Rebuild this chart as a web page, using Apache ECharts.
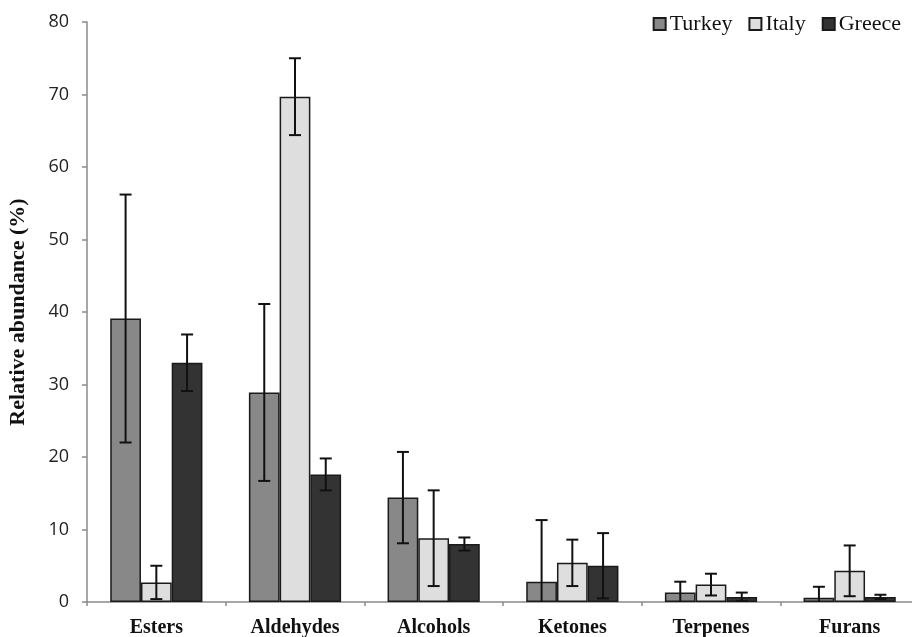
<!DOCTYPE html>
<html>
<head>
<meta charset="utf-8">
<script src="https://cdn.jsdelivr.net/npm/echarts@6/dist/echarts.min.js"></script>
<style>
  html, body { margin: 0; padding: 0; background: #fff; }
  #chart { width: 912px; height: 637px; }
</style>
</head>
<body>
<div id="chart"></div>
<script>
// Volatile compound classes and their relative abundance (%) by origin
const categories = ['Esters', 'Aldehydes', 'Alcohols', 'Ketones', 'Terpenes', 'Furans'];
const countries = ['Turkey', 'Italy', 'Greece'];

const turkeyMean = [39.1, 28.9, 14.4, 2.8, 1.3, 0.6];
const turkeyErr  = [17.1, 12.2, 6.3, 8.5, 1.5, 1.5];
const italyMean  = [2.7, 69.7, 8.8, 5.4, 2.4, 4.3];
const italyErr   = [2.3, 5.3, 6.6, 3.2, 1.5, 3.5];
const greeceMean = [33.0, 17.6, 8.0, 5.0, 0.7, 0.7];
const greeceErr  = [3.9, 2.2, 0.9, 4.5, 0.6, 0.3];

const yTicks = [0, 10, 20, 30, 40, 50, 60, 70, 80];

const means = [turkeyMean, italyMean, greeceMean];
const errs = [turkeyErr, italyErr, greeceErr];
const fills = ['#888888', '#dedede', '#333333'];

const CATEGORY_GAP = 0.335;
const serif = '"Liberation Serif", "Times New Roman", serif';

// Standard-deviation whiskers, one custom series per origin, offset onto its bar
function errorSeries(idx) {
  const data = categories.map((c, i) => [i, means[idx][i] - errs[idx][i], means[idx][i] + errs[idx][i]]);
  return {
    type: 'custom',
    name: countries[idx] + ' SD',
    clip: true,
    z: 10,
    silent: true,
    renderItem: function (params, api) {
      const band = api.size([1, 0])[0];
      const barW = band * (1 - CATEGORY_GAP) / 3;
      const center = api.coord([api.value(0), 0])[0] + (idx - 1) * barW;
      const lo = api.coord([api.value(0), api.value(1)])[1];
      const hi = api.coord([api.value(0), api.value(2)])[1];
      const half = 6;
      const style = { stroke: '#111', lineWidth: 2 };
      return {
        type: 'group',
        children: [
          { type: 'line', shape: { x1: center, y1: lo, x2: center, y2: hi }, style: style },
          { type: 'line', shape: { x1: center - half, y1: hi, x2: center + half, y2: hi }, style: style },
          { type: 'line', shape: { x1: center - half, y1: lo, x2: center + half, y2: lo }, style: style }
        ]
      };
    },
    encode: { x: 0, y: [1, 2] },
    data: data
  };
}

const barSeries = countries.map((name, idx) => ({
  type: 'bar',
  name: name,
  data: means[idx],
  barGap: '0%',
  barCategoryGap: (CATEGORY_GAP * 100) + '%',
  itemStyle: { color: fills[idx], borderColor: '#1a1a1a', borderWidth: 1.5 }
}));

const chart = echarts.init(document.getElementById('chart'), null, { renderer: 'canvas' });
chart.setOption({
  animation: false,
  backgroundColor: '#ffffff',
  grid: { left: 87, top: 22, width: 832, height: 580, containLabel: false, outerBoundsMode: 'none' },
  legend: {
    data: countries,
    right: 6,
    top: 8,
    icon: 'rect',
    itemWidth: 12,
    itemHeight: 12,
    itemGap: 16,
    textStyle: { fontFamily: serif, fontSize: 22, color: '#111', padding: [0, 0, 0, -1] }
  },
  xAxis: {
    type: 'category',
    data: categories,
    axisLine: { lineStyle: { color: '#8a8a8a', width: 1.5 } },
    axisTick: { show: true, length: 4, lineStyle: { color: '#8a8a8a', width: 1.5 } },
    axisLabel: { fontFamily: serif, fontWeight: 'bold', fontSize: 20, color: '#111', margin: 16 },
    splitLine: { show: false }
  },
  yAxis: {
    type: 'value',
    min: yTicks[0],
    max: yTicks[yTicks.length - 1],
    interval: yTicks[1] - yTicks[0],
    name: 'Relative abundance (%)',
    nameLocation: 'middle',
    nameGap: 58,
    nameTextStyle: { fontFamily: serif, fontWeight: 'bold', fontSize: 22, color: '#111' },
    axisLine: { show: true, lineStyle: { color: '#8a8a8a', width: 1.5 } },
    axisTick: { show: true, length: 5, lineStyle: { color: '#8a8a8a', width: 1.5 } },
    axisLabel: { fontFamily: '"Open Sans", sans-serif', fontSize: 18, color: '#222', margin: 18 },
    splitLine: { show: false }
  },
  series: barSeries.concat([errorSeries(0), errorSeries(1), errorSeries(2)])
});
</script>
</body>
</html>
